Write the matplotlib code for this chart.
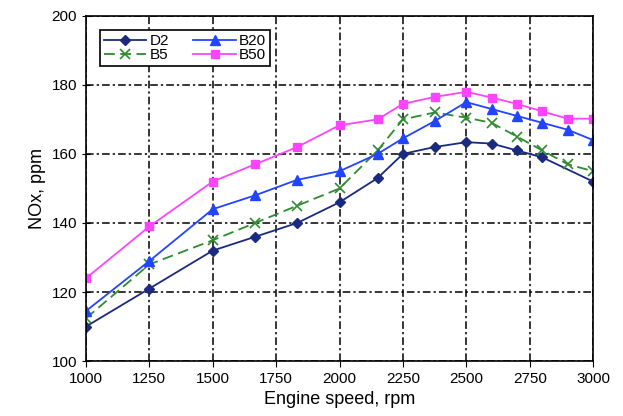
import matplotlib.pyplot as plt
import numpy as np

plt.rcParams['font.family'] = ['Liberation Sans', 'DejaVu Sans']

# Engine speed points [rpm]
speed = [1000, 1250, 1500, 1667, 1833, 2000, 2150, 2250, 2375, 2500, 2600, 2700, 2800, 2900, 3000]
speed_d2 = [1000, 1250, 1500, 1667, 1833, 2000, 2150, 2250, 2375, 2500, 2600, 2700, 2800, 3000]

# NOx values [ppm]
nox_d2 = [110, 121, 132, 136, 140, 146, 153, 160, 162, 163.4, 163, 161, 159, 152]
nox_b5 = [112.4, 128, 135, 140, 145, 150, 161, 170, 172, 170.5, 169, 165, 161, 157, 155]
nox_b20 = [114.5, 129, 144, 148, 152.5, 155, 160, 164.5, 169.5, 175, 173, 171, 169, 167, 164]
nox_b50 = [124, 139, 152, 157, 162, 168.3, 170, 174.5, 176.5, 178, 176.3, 174.5, 172.3, 170.2, 170.2]

fig = plt.figure(figsize=(6.23, 4.16), dpi=100)
ax = fig.add_axes([0.138, 0.132, 0.814, 0.83])

ax.plot(speed_d2, nox_d2, color='#1a2a80', marker='D', markersize=5, linewidth=1.3, label='D2')
ax.plot(speed, nox_b5, color='#2e8b2e', marker='x', markersize=7, markeredgewidth=1.2,
        linewidth=1.3, linestyle=(0, (6, 3)), label='B5')
ax.plot(speed, nox_b20, color='#2244ff', marker='^', markersize=7, linewidth=1.3, label='B20')
ax.plot(speed, nox_b50, color='#ff44ff', marker='s', markersize=6, linewidth=1.3, label='B50')

ax.set_xlim(1000, 3000)
ax.set_ylim(100, 200)
ax.set_xticks(np.arange(1000, 3001, 250))
ax.set_yticks(np.arange(100, 201, 20))
ax.grid(True, color='black', linestyle=(0, (5, 2, 1.5, 2)), linewidth=1.1)
ax.tick_params(axis='y', direction='inout', length=6, labelsize=11)
ax.tick_params(axis='x', direction='out', length=4, labelsize=11)
for s in ax.spines.values():
    s.set_linewidth(1.2)

ax.set_xlabel('Engine speed, rpm', fontsize=13)
ax.set_ylabel('NOx, ppm', fontsize=13)

leg = ax.legend(ncol=2, loc='upper left', bbox_to_anchor=(0.012, 0.98), fancybox=False,
                framealpha=1, edgecolor='black', fontsize=11, handlelength=2.8,
                columnspacing=1.6, borderpad=0.25, labelspacing=0.0, handletextpad=0.2)
leg.get_frame().set_linewidth(1.2)

fig.savefig('out.png', dpi=100)
